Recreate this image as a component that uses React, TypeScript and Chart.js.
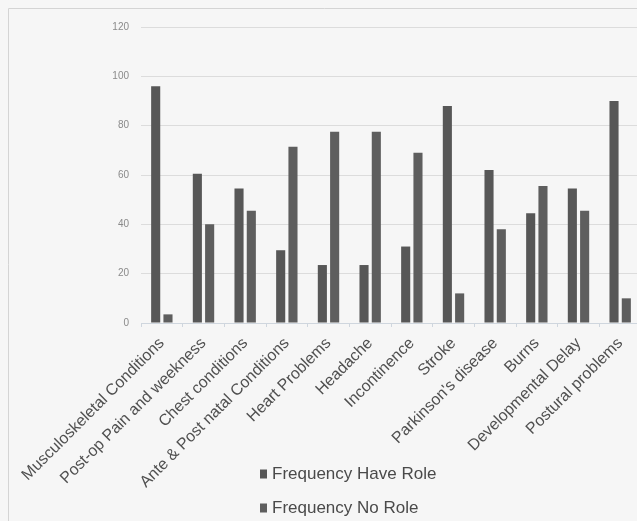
import React, { useEffect, useRef } from "react";
import { Chart, registerables } from "chart.js";

Chart.register(...registerables);

const categories = [
  "Musculoskeletal Conditions",
  "Post-op Pain and weekness",
  "Chest conditions",
  "Ante & Post natal Conditions",
  "Heart Problems",
  "Headache",
  "Incontinence",
  "Stroke",
  "Parkinson's disease",
  "Burns",
  "Developmental Delay",
  "Postural problems",
];
const haveRole = [96, 60.5, 54.5, 29.5, 23.5, 23.5, 31, 88, 62, 44.5, 54.5, 90];
const noRole = [3.5, 40, 45.5, 71.5, 77.5, 77.5, 69, 12, 38, 55.5, 45.5, 10];
const seriesNames = ["Frequency Have Role", "Frequency No Role"];
const yMin = 0;
const yMax = 120;
const yStep = 20;

const barColors = ["#575757", "#5e5e5e"];

export default function App() {
  const ref = useRef<HTMLCanvasElement>(null);

  useEffect(() => {
    if (!ref.current) return;

    const framePlugin = {
      id: "frame",
      beforeDraw(chart: any) {
        const ctx = chart.ctx;
        ctx.save();
        ctx.strokeStyle = "#d4d4d4";
        ctx.lineWidth = 1;
        ctx.beginPath();
        ctx.moveTo(8.5, chart.height);
        ctx.lineTo(8.5, 8.5);
        ctx.lineTo(chart.width, 8.5);
        ctx.stroke();
        ctx.restore();
      },
    };

    const stackedLegend = {
      id: "stackedLegend",
      afterDraw(chart: any) {
        const ctx = chart.ctx;
        ctx.save();
        ctx.font = "17px 'Liberation Sans', Arial, sans-serif";
        ctx.textBaseline = "middle";
        ctx.textAlign = "left";
        chart.data.datasets.forEach((ds: any, i: number) => {
          const cy = chart.height - 47 + i * 34;
          const x = 260;
          ctx.fillStyle = ds.backgroundColor;
          ctx.fillRect(x, cy - 4.5, 7, 9);
          ctx.fillStyle = "#4a4a4a";
          ctx.fillText(ds.label, x + 12, cy);
        });
        ctx.restore();
      },
    };

    const chart = new Chart(ref.current, {
      type: "bar",
      data: {
        labels: categories,
        datasets: [
          {
            label: seriesNames[0],
            data: haveRole,
            backgroundColor: barColors[0],
            categoryPercentage: 0.59,
            barPercentage: 0.74,
          },
          {
            label: seriesNames[1],
            data: noRole,
            backgroundColor: barColors[1],
            categoryPercentage: 0.59,
            barPercentage: 0.74,
          },
        ],
      },
      options: {
        responsive: false,
        animation: false,
        layout: { padding: { top: 27, right: 0, bottom: 0, left: 0 } },
        plugins: {
          legend: { display: false },
          tooltip: { enabled: false },
        },
        scales: {
          x: {
            grid: {
              display: true,
              drawOnChartArea: false,
              drawTicks: true,
              tickLength: 4,
              color: "#cfd6de",
            },
            border: { display: true, color: "#cfd6de" },
            ticks: {
              autoSkip: false,
              minRotation: 45,
              maxRotation: 45,
              padding: 7,
              color: "#505050",
              font: { family: "'Liberation Sans', Arial, sans-serif", size: 16 },
            },
            afterFit(scale: any) {
              scale.height = 198;
            },
          },
          y: {
            min: yMin,
            max: yMax,
            ticks: {
              stepSize: yStep,
              padding: 12,
              color: "#8a8a8a",
              font: { family: "'Liberation Sans', Arial, sans-serif", size: 10 },
            },
            grid: { color: "#dcdcdc", drawTicks: false, lineWidth: 1 },
            border: { display: false },
            afterFit(scale: any) {
              scale.width = 141;
            },
          },
        },
      },
      plugins: [framePlugin, stackedLegend],
    });

    return () => chart.destroy();
  }, []);

  return (
    <div
      style={{
        position: "fixed",
        left: 0,
        top: 0,
        width: 637,
        height: 521,
        overflow: "hidden",
        background: "#f6f6f6",
      }}
    >
      <canvas ref={ref} width={641} height={521} style={{ display: "block" }} />
    </div>
  );
}
